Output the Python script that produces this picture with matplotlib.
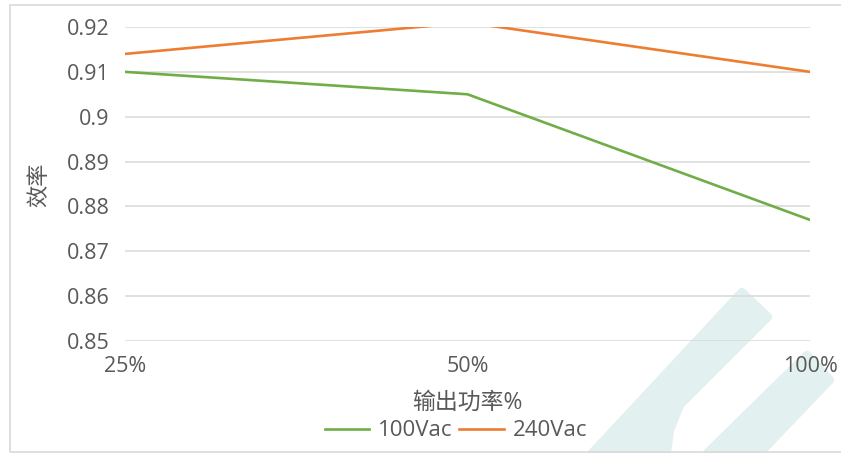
import matplotlib.pyplot as plt
from matplotlib.patches import Rectangle, Polygon

plt.rcParams['font.family'] = ['Open Sans', 'Noto Sans CJK SC', 'DejaVu Sans']

categories = ['25%', '50%', '100%']
eff_100vac = [0.910, 0.905, 0.877]
eff_240vac = [0.914, 0.921, 0.910]
y_ticks = [0.85, 0.86, 0.87, 0.88, 0.89, 0.9, 0.91, 0.92]
y_tick_labels = ['0.85', '0.86', '0.87', '0.88', '0.89', '0.9', '0.91', '0.92']

W, H = 841, 453
text_color = '#595959'
grid_color = '#D9D9D9'


def px(x, y):
    # figure pixel (from top-left) -> figure fraction
    return (x / W, 1 - y / H)


fig = plt.figure(figsize=(W / 100, H / 100), dpi=100)

# faint watermark shapes in the lower right
wm_color = '#e2f0f0'
band1 = [px(592, 453), px(742, 292), px(768, 317), px(680, 405), px(670, 430), px(667, 453)]
band2 = [px(707, 453), px(807, 355), px(830, 380), px(760, 453)]
for pts in (band1, band2):
    fig.add_artist(Polygon(pts, closed=True, transform=fig.transFigure,
                           facecolor=wm_color, edgecolor=wm_color, lw=6,
                           joinstyle='round', zorder=0))

# chart border
fig.add_artist(Rectangle(px(10, 452), 1.0, (452 - 5) / H, transform=fig.transFigure,
                         fill=False, edgecolor=grid_color, lw=1.2, zorder=1))

left, right = 125 / W, 810 / W
bottom, top = 1 - 341 / H, 1 - 27 / H
ax = fig.add_axes([left, bottom, right - left, top - bottom])
ax.set_facecolor('none')

x = list(range(len(categories)))
ax.plot(x, eff_100vac, color='#70AD47', lw=1.9, label='100Vac', zorder=3)
ax.plot(x, eff_240vac, color='#ED7D31', lw=1.9, label='240Vac', zorder=3)

ax.set_xlim(0, len(categories) - 1)
ax.set_ylim(0.85, 0.92)
ax.set_xticks(x)
ax.set_xticklabels(categories)
ax.set_yticks(y_ticks)
ax.set_yticklabels(y_tick_labels)

for s in ax.spines.values():
    s.set_visible(False)
ax.tick_params(axis='both', length=0, labelsize=15.5, colors=text_color)
ax.tick_params(axis='y', pad=11)
ax.tick_params(axis='x', pad=11)
ax.grid(axis='y', color=grid_color, lw=1.1)
ax.set_axisbelow(True)

fig.text(40 / W, 1 - 185 / H, '效率', rotation=90, ha='center', va='center',
         fontsize=16, color=text_color)
fig.text(467 / W, 1 - 403 / H, '输出功率%', ha='center', va='center',
         fontsize=16.5, color=text_color)

leg = fig.legend(loc='center', bbox_to_anchor=px(456, 431), ncol=2, frameon=False,
                 fontsize=16, handlelength=2.0, handletextpad=0.4,
                 columnspacing=0.3, borderpad=0)
for t in leg.get_texts():
    t.set_color(text_color)

fig.savefig('out.png', dpi=100)
